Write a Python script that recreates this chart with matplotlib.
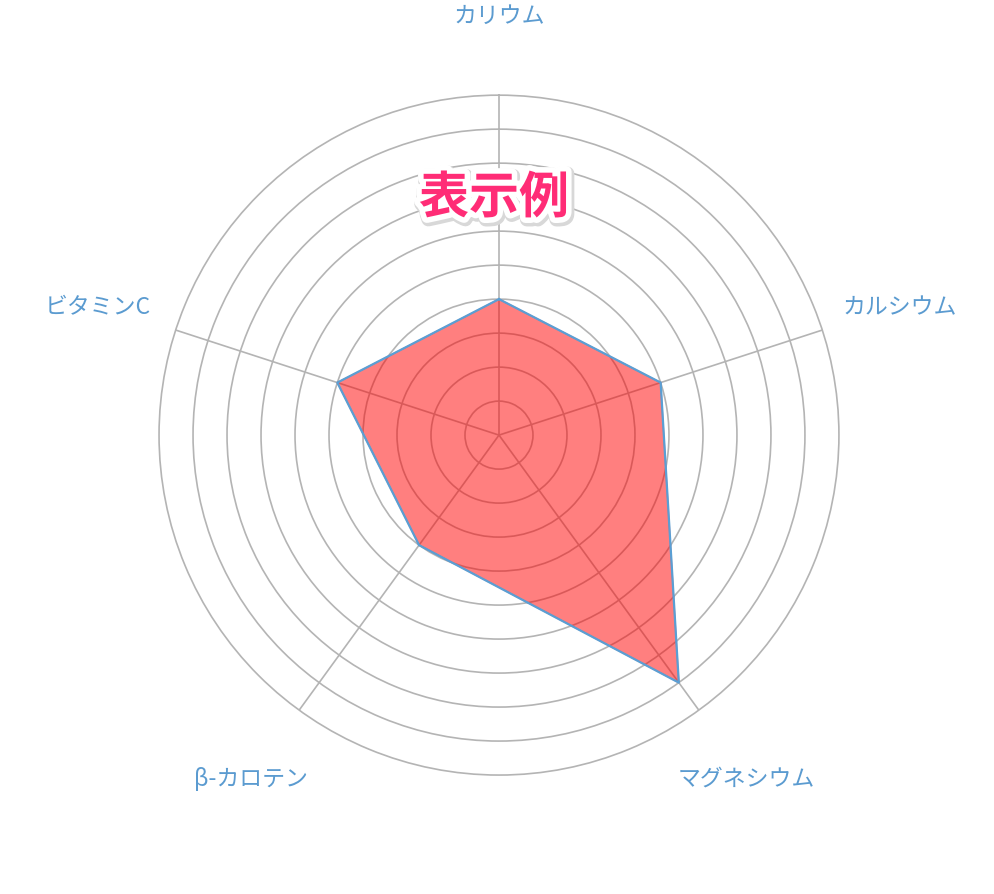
import numpy as np
import matplotlib
matplotlib.use("Agg")
import matplotlib.pyplot as plt
import matplotlib.patheffects as pe

plt.rcParams['font.family'] = ['Noto Sans CJK JP', 'DejaVu Sans']

# data
labels = ['カリウム', 'カルシウム', 'マグネシウム', 'β-カロテン', 'ビタミンC']
values = [4, 5, 9, 4, 5]
max_value = 10
title = '表示例'

n = len(labels)
angles = np.arange(n) * 2 * np.pi / n

fig = plt.figure(figsize=(9.94, 8.94), dpi=100)
ax = fig.add_axes([0.16, 0.133, 0.684, 0.7606], projection='polar')
ax.set_theta_offset(np.pi / 2)
ax.set_theta_direction(-1)
ax.set_ylim(0, max_value)

grid_col = '#b4b4b4'
ax.set_yticks(range(1, max_value))
ax.set_yticklabels([])
ax.set_xticks(angles)
ax.set_xticklabels([])
ax.grid(True, color=grid_col, linewidth=1.2)
ax.set_axisbelow(True)
ax.spines['polar'].set_color(grid_col)
ax.spines['polar'].set_linewidth(1.2)

# polygon, semi-transparent so the grid shows through
a = np.append(angles, angles[0])
v = values + values[:1]
ax.fill(a, v, color=(1, 0, 0, 0.5), zorder=3)
ax.plot(a, v, color='#5a9fd4', linewidth=1.6, zorder=4)

# category labels
for ang, lab in zip(angles, labels):
    ax.text(ang, 12.4, lab, ha='center', va='center_baseline', fontsize=16.5,
            color='#5b9bd0', clip_on=False)

# title
fig.text(0.497, 0.778, title, ha='center', va='center', fontsize=36,
         fontweight='bold', color='#ff2c76', zorder=10,
         path_effects=[pe.Stroke(linewidth=10, foreground='#d8d8d8', offset=(1, -1.5)),
                       pe.Stroke(linewidth=8, foreground='white'),
                       pe.Normal()])

fig.savefig('out.png', dpi=100, facecolor='white')
